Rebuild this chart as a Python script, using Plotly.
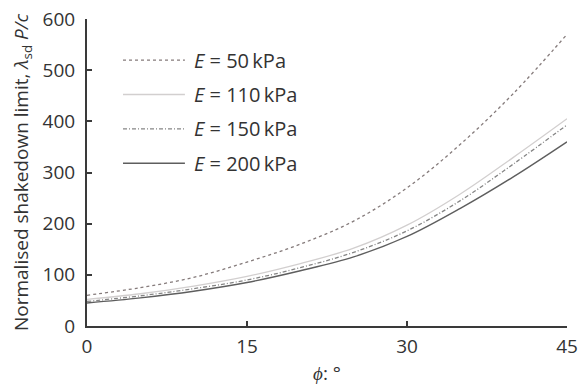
import plotly.graph_objects as go

phi = [0, 5, 10, 15, 20, 25, 30, 35, 40, 45]
e50 = [60, 75, 95, 125, 160, 205, 270, 355, 455, 570]
e110 = [52, 63, 78, 97, 122, 152, 197, 258, 330, 405]
e150 = [48, 59, 73, 90, 114, 144, 186, 245, 317, 393]
e200 = [45, 55, 68, 85, 108, 135, 175, 230, 292, 360]
labels = ["<i>E</i> = 50\u2009kPa", "<i>E</i> = 110\u2009kPa", "<i>E</i> = 150\u2009kPa", "<i>E</i> = 200\u2009kPa"]
series = [e50, e110, e150, e200]
styles = [
    dict(color="#857b7b", width=1.3, dash="dot"),
    dict(color="#d2cfcf", width=1.3, dash="solid"),
    dict(color="#858585", width=1.3, dash="4px,2px,1px,2px"),
    dict(color="#5e5e5e", width=1.4, dash="solid"),
]

fig = go.Figure()
for ys, st, lab in zip(series, styles, labels):
    fig.add_trace(go.Scatter(x=phi, y=ys, mode="lines", line=dict(shape="spline", **st), name=lab, showlegend=False))

# manual legend
leg_y = [0.866, 0.754, 0.642, 0.530]
for st, lab, yy in zip(styles, labels, leg_y):
    fig.add_shape(type="line", xref="paper", yref="paper", x0=0.075, x1=0.204, y0=yy, y1=yy, line=st)
    fig.add_annotation(xref="paper", yref="paper", x=0.218, y=yy, text=lab, showarrow=False,
                       xanchor="left", yanchor="middle", font=dict(size=20, color="#333"))

axis_common = dict(showline=True, linecolor="#3a3a3a", linewidth=2, ticks="inside", ticklen=5,
                   tickcolor="#3a3a3a", tickwidth=1.5, showgrid=False, zeroline=False,
                   automargin=False, tickfont=dict(size=19, color="#333"))
fig.update_xaxes(range=[0, 45], tickvals=[0, 15, 30, 45], ticklabelstandoff=2,
                 title=dict(text="<i>ϕ</i>: °", font=dict(size=19, color="#333"), standoff=9), **axis_common)
fig.update_yaxes(range=[0, 600], tickvals=[0, 100, 200, 300, 400, 500, 600], ticklabelstandoff=6,
                 title=dict(text="Normalised shakedown limit, <i>λ</i><sub>sd</sub> <i>P/c</i>", font=dict(size=19, color="#333"), standoff=9), **axis_common)
fig.update_layout(width=578, height=389, margin=dict(l=87, r=11, t=19, b=63),
                  plot_bgcolor="white", paper_bgcolor="white",
                  font=dict(family="Open Sans", color="#333"))
fig.write_html("out.html")
